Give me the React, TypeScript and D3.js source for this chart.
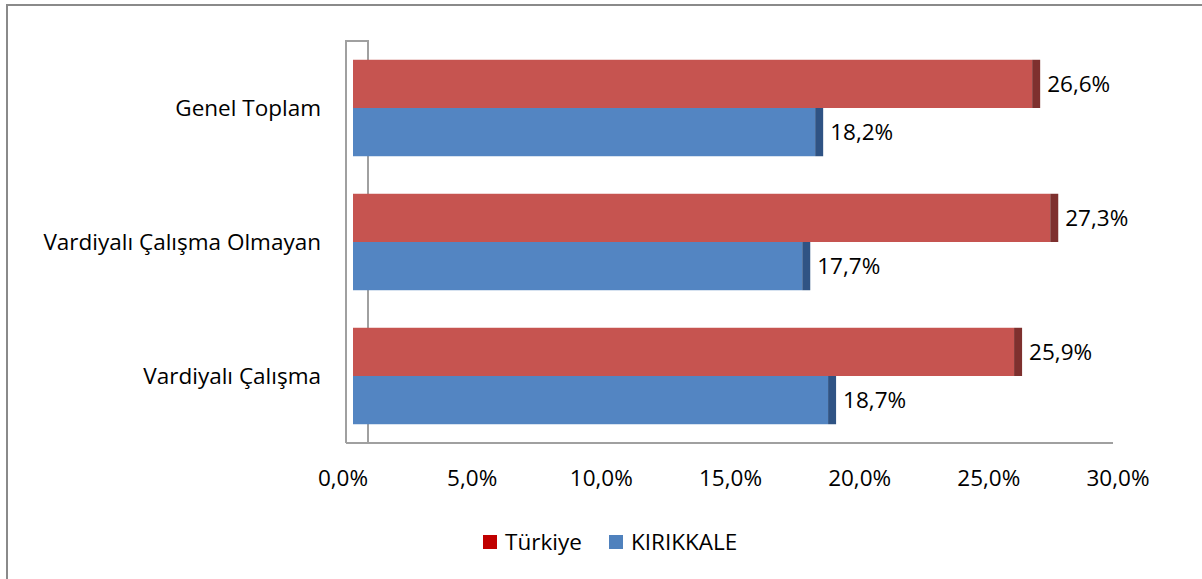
import * as d3 from "d3";

// categories top to bottom
const categories = ["Genel Toplam", "Vardiyalı Çalışma Olmayan", "Vardiyalı Çalışma"];
const seriesNames = ["Türkiye", "KIRIKKALE"];
const turkiye = [26.6, 27.3, 25.9];
const kirikkale = [18.2, 17.7, 18.7];
const xTicks = [0, 5, 10, 15, 20, 25, 30];

const W = 1202;
const H = 579;
const FONT = "'Open Sans', sans-serif";
const FS = 22.5;

// front face colours and the darker 3D end cap
const faceColors = ["#C65450", "#5385C2"];
const capColors = ["#7E302E", "#2F5384"];
const legendColors = ["#C00000", "#4F81BD"];

const fmt = (v: number) => v.toFixed(1).replace(".", ",") + "%";

export default function App() {
	const x = d3.scaleLinear().domain([0, 30]).range([353, 1128]);
	const y = d3.scaleBand<string>().domain(categories).range([41, 443]).paddingInner(0.28).paddingOuter(0.14);
	const inner = d3.scaleBand<number>().domain([0, 1]).range([0, y.bandwidth()]);
	const series = [turkiye, kirikkale];
	const depth = 8;
	const labelShift = -10; // axis labels sit on the front floor edge

	return (
		<div style={{ position: "absolute", left: 0, top: 0 }}>
			<svg width={W} height={H} style={{ display: "block", background: "#fff" }}>
				{/* chart frame */}
				<rect x={7} y={5} width={1200} height={590} fill="none" stroke="#8a8a8a" strokeWidth={2} />

				{/* wall and floor */}
				<g stroke="#a0a0a0" strokeWidth={2} fill="none">
					<path d={`M346,443 V41 H368 V443`} />
					<path d={`M346,443 H1113`} />
				</g>

				{/* bars */}
				{categories.map((c, i) => (
					<g key={c}>
						{series.map((vals, s) => {
							const y0 = (y(c) ?? 0) + (inner(s) ?? 0);
							const h = inner.bandwidth();
							const xe = x(vals[i]);
							return (
								<g key={s}>
									<rect x={x(0)} y={y0} width={xe - depth - x(0)} height={h} fill={faceColors[s]} />
									<rect x={xe - depth} y={y0} width={depth} height={h} fill={capColors[s]} />
									<text
										x={xe + 7}
										y={y0 + h / 2}
										dy="0.35em"
										fontFamily={FONT}
										fontSize={FS}
										fill="#000"
									>
										{fmt(vals[i])}
									</text>
								</g>
							);
						})}
						<text
							x={321}
							y={(y(c) ?? 0) + y.bandwidth() / 2}
							dy="0.35em"
							textAnchor="end"
							fontFamily={FONT}
							fontSize={FS}
							fill="#000"
						>
							{c}
						</text>
					</g>
				))}

				{/* x axis labels */}
				{xTicks.map((t) => (
					<text
						key={t}
						x={x(t) + labelShift}
						y={478}
						dy="0.35em"
						textAnchor="middle"
						fontFamily={FONT}
						fontSize={FS}
						fill="#000"
					>
						{fmt(t)}
					</text>
				))}

				{/* legend */}
				<g fontFamily={FONT} fontSize={FS}>
					{seriesNames.map((n, i) => {
						const lx = i === 0 ? 483 : 609;
						return (
							<g key={n}>
								<rect x={lx} y={535} width={14} height={14} fill={legendColors[i]} />
								<text x={lx + 22} y={542} dy="0.35em" fill="#000">
									{n}
								</text>
							</g>
						);
					})}
				</g>
			</svg>
		</div>
	);
}
